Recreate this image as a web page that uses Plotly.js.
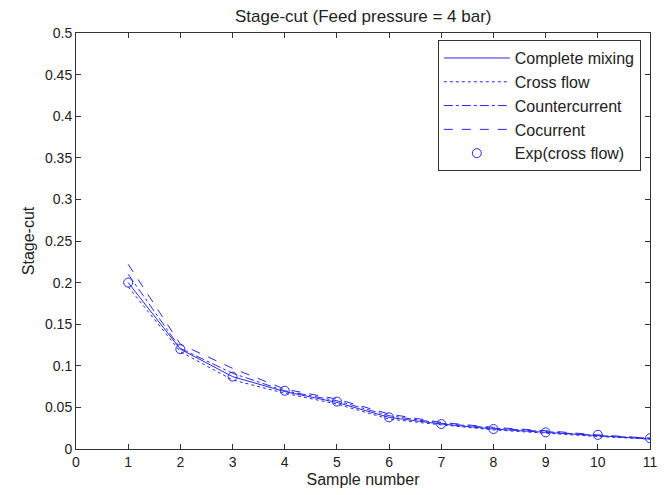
<!DOCTYPE html>
<html>
<head>
<meta charset="utf-8">
<script src="https://cdn.plot.ly/plotly-3.0.1.min.js"></script>
<style>html,body{margin:0;padding:0;background:#fff;}#chart{width:669px;height:495px;}</style>
</head>
<body>
<div id="chart"></div>
<script>
const samples = [1, 2, 3, 4, 5, 6, 7, 8, 9, 10, 11];
const completeMixing = [0.200, 0.120, 0.087, 0.069, 0.056, 0.038, 0.030, 0.024, 0.020, 0.016, 0.012];
const crossFlow      = [0.195, 0.117, 0.083, 0.067, 0.054, 0.036, 0.029, 0.023, 0.019, 0.015, 0.012];
const countercurrent = [0.210, 0.121, 0.091, 0.070, 0.058, 0.040, 0.031, 0.025, 0.021, 0.016, 0.013];
const cocurrent      = [0.222, 0.126, 0.097, 0.072, 0.060, 0.042, 0.032, 0.026, 0.022, 0.017, 0.013];
const expCrossFlow   = [0.200, 0.120, 0.087, 0.070, 0.057, 0.038, 0.030, 0.024, 0.020, 0.017, 0.013];

const blue = 'rgb(40,40,235)';
const fam = 'Liberation Sans, Arial';
function lineTrace(name, y, dash) {
  return {x: samples, y: y, name: name, mode: 'lines', type: 'scatter',
          line: {color: blue, width: 1, dash: dash}};
}
const data = [
  lineTrace('Complete mixing', completeMixing, 'solid'),
  lineTrace('Cross flow', crossFlow, 'dot'),
  lineTrace('Countercurrent', countercurrent, 'dashdot'),
  lineTrace('Cocurrent', cocurrent, 'dash'),
  {x: samples, y: expCrossFlow, name: 'Exp(cross flow)', mode: 'markers', type: 'scatter',
   marker: {symbol: 'circle-open', size: 9, color: blue, line: {width: 1, color: blue}}}
];
const axisCommon = {
  showgrid: false, zeroline: false, showline: true, mirror: 'ticks',
  linecolor: '#333', linewidth: 1, ticks: 'inside', ticklen: 5, tickcolor: '#333',
  tickfont: {family: fam, size: 14, color: '#222'}
};
const layout = {
  width: 669, height: 495,
  margin: {l: 76, r: 19, t: 33, b: 46},
  paper_bgcolor: '#fff', plot_bgcolor: '#fff',
  title: {text: 'Stage-cut (Feed pressure = 4 bar)', x: 0.543, xanchor: 'center', y: 0.968, yanchor: 'middle',
          font: {family: fam, size: 17, color: '#222'}},
  xaxis: Object.assign({}, axisCommon, {range: [0, 11], tickvals: [0,1,2,3,4,5,6,7,8,9,10,11],
          title: {text: 'Sample number', standoff: 5, font: {family: fam, size: 16, color: '#222'}}}),
  yaxis: Object.assign({}, axisCommon, {range: [0, 0.5], dtick: 0.05,
          title: {text: 'Stage-cut', standoff: 6, font: {family: fam, size: 16, color: '#222'}}}),
  showlegend: true,
  legend: {x: 0.984, xanchor: 'right', y: 0.983, yanchor: 'top', bgcolor: '#fff',
           bordercolor: '#333', borderwidth: 1, itemwidth: 66, tracegroupgap: 0,
           font: {family: fam, size: 16, color: '#222'}}
};
Plotly.newPlot('chart', data, layout, {staticPlot: true, displayModeBar: false});
</script>
</body>
</html>
